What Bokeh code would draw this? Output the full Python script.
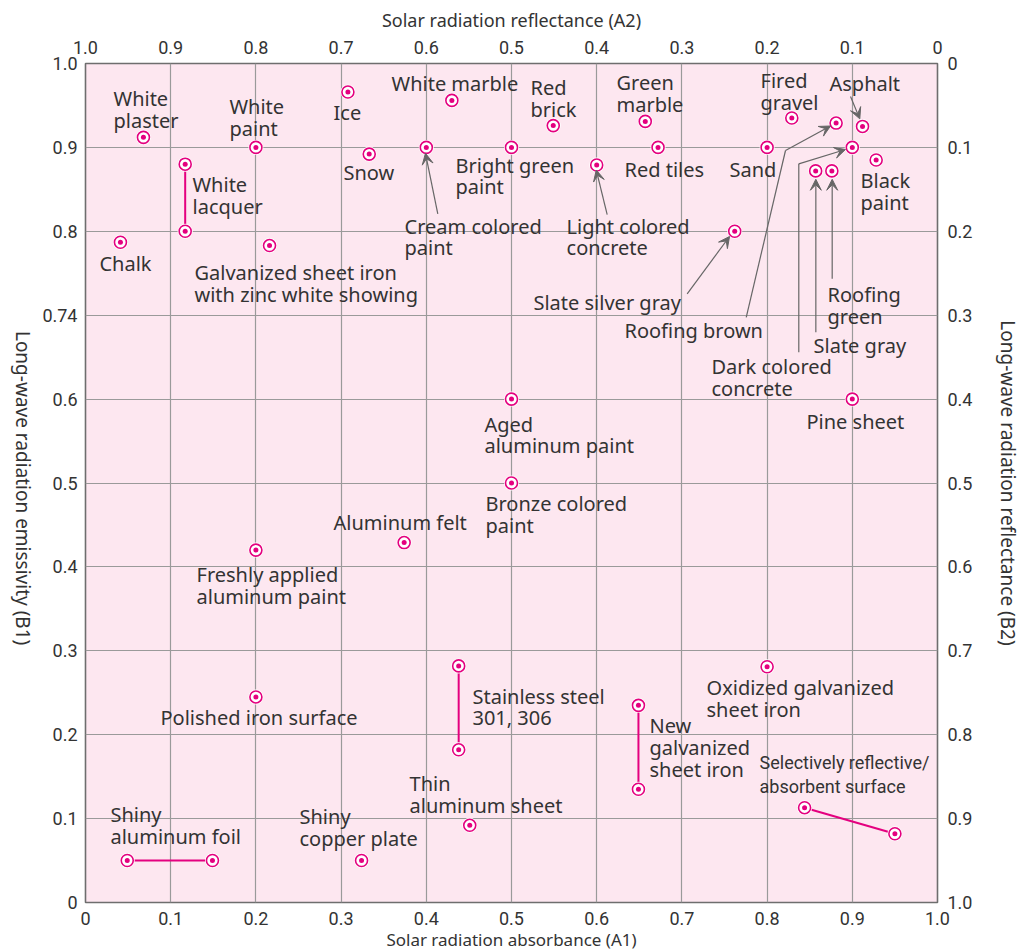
import math
from bokeh.plotting import figure
from bokeh.layouts import row
from bokeh.models import LinearAxis, Range1d, FixedTicker, Arrow, VeeHead
from bokeh.core.properties import value
from bokeh.embed import file_html
from bokeh.resources import INLINE

# ---------------- data ----------------
ticks = [0.0, 0.1, 0.2, 0.3, 0.4, 0.5, 0.6, 0.7, 0.8, 0.9, 1.0]
bottom_labels = ["0", "0.1", "0.2", "0.3", "0.4", "0.5", "0.6", "0.7", "0.8", "0.9", "1.0"]
top_labels = ["1.0", "0.9", "0.8", "0.7", "0.6", "0.5", "0.4", "0.3", "0.2", "0.1", "0"]
left_labels = ["0", "0.1", "0.2", "0.3", "0.4", "0.5", "0.6", "0.74", "0.8", "0.9", "1.0"]
right_labels = ["1.0", "0.9", "0.8", "0.7", "0.6", "0.5", "0.4", "0.3", "0.2", "0.1", "0"]

# single-value materials: solar absorbance (A1), long-wave emissivity (B1)
materials = ["White plaster", "White paint", "Ice", "White marble", "Snow",
             "Cream colored paint", "Chalk", "Galvanized sheet iron with zinc white showing",
             "Red brick", "Green marble", "Fired gravel", "Asphalt", "Bright green paint",
             "Red tiles", "Sand", "Black paint", "Light colored concrete", "Slate silver gray",
             "Roofing brown", "Roofing green", "Slate gray", "Dark colored concrete",
             "Pine sheet", "Aged aluminum paint", "Bronze colored paint", "Aluminum felt",
             "Freshly applied aluminum paint", "Polished iron surface",
             "Oxidized galvanized sheet iron", "Thin aluminum sheet", "Shiny copper plate"]
absorbance = [0.068, 0.20, 0.308, 0.43, 0.333,
              0.40, 0.041, 0.216,
              0.549, 0.657, 0.829, 0.912, 0.50,
              0.672, 0.80, 0.928, 0.60, 0.762,
              0.881, 0.876, 0.857, 0.90,
              0.90, 0.50, 0.50, 0.374,
              0.20, 0.20,
              0.80, 0.451, 0.324]
emissivity = [0.912, 0.90, 0.966, 0.956, 0.892,
              0.90, 0.787, 0.783,
              0.926, 0.931, 0.935, 0.925, 0.90,
              0.90, 0.90, 0.885, 0.879, 0.80,
              0.929, 0.872, 0.872, 0.90,
              0.60, 0.60, 0.50, 0.429,
              0.42, 0.245,
              0.281, 0.092, 0.050]

# materials given as a range (two end points)
range_materials = ["White lacquer", "Stainless steel 301, 306", "New galvanized sheet iron",
                   "Selectively reflective/absorbent surface", "Shiny aluminum foil"]
range_a_start = [0.117, 0.438, 0.649, 0.844, 0.049]
range_b_start = [0.880, 0.282, 0.235, 0.113, 0.050]
range_a_end = [0.117, 0.438, 0.649, 0.950, 0.149]
range_b_end = [0.800, 0.182, 0.135, 0.082, 0.050]

# label texts and their anchor (top-left) positions in data units
label_text = ["White\nplaster", "White\npaint", "Ice", "White marble", "Snow",
              "Cream colored\npaint", "White\nlacquer", "Chalk",
              "Galvanized sheet iron\nwith zinc white showing",
              "Red\nbrick", "Green\nmarble", "Fired\ngravel", "Asphalt",
              "Bright green\npaint", "Red tiles", "Sand", "Black\npaint",
              "Light colored\nconcrete", "Slate silver gray", "Roofing brown",
              "Roofing\ngreen", "Slate gray", "Dark colored\nconcrete", "Pine sheet",
              "Aged\naluminum paint", "Bronze colored\npaint", "Aluminum felt",
              "Freshly applied\naluminum paint", "Polished iron surface",
              "Stainless steel\n301, 306", "Oxidized galvanized\nsheet iron",
              "New\ngalvanized\nsheet iron", "Thin\naluminum sheet",
              "Shiny\ncopper plate", "Shiny\naluminum foil"]
label_x = [0.0329, 0.1690, 0.2911, 0.3592, 0.3028,
           0.3744, 0.1256, 0.0164,
           0.1279,
           0.5223, 0.6232, 0.7923, 0.8732,
           0.4343, 0.6326, 0.7559, 0.9096,
           0.5646, 0.5258, 0.6326,
           0.8709, 0.8545, 0.7347, 0.8462,
           0.4683, 0.4695, 0.2911,
           0.1303, 0.0880,
           0.4542, 0.7289,
           0.6620, 0.3803,
           0.2512, 0.0293]
label_y = [0.9702, 0.9607, 0.9535, 0.9881, 0.8820,
           0.8188, 0.8677, 0.7747,
           0.7628,
           0.9833, 0.9893, 0.9917, 0.9881,
           0.8915, 0.8856, 0.8856, 0.8725,
           0.8188, 0.7282, 0.6937,
           0.7366, 0.6758, 0.6508, 0.5852,
           0.5828, 0.4875, 0.4660,
           0.4029, 0.2324,
           0.2586, 0.2682,
           0.2229, 0.1538,
           0.1144, 0.1168]
small_label_text = ["Selectively reflective/\nabsorbent surface"]
small_label_x = [0.7911]
small_label_y = [0.1752]

# leader arrows (polyline points in data units, last point is arrow tip)
arrows = [
    [(0.4135, 0.8209), (0.3990, 0.8930)],
    [(0.6123, 0.8200), (0.5995, 0.8730)],
    [(0.7062, 0.7255), (0.7559, 0.7938)],
    [(0.7755, 0.6975), (0.8216, 0.8963), (0.8744, 0.9255)],
    [(0.8372, 0.6559), (0.8372, 0.8804), (0.8920, 0.8975)],
    [(0.8572, 0.6797), (0.8572, 0.8620)],
    [(0.8764, 0.7433), (0.8764, 0.8620)],
    [(0.8979, 0.9607), (0.9088, 0.9340)],
]

PINK = "#e4007f"
TEXT = "#333333"
GRAY = "#666666"
FONT = "Noto Sans"
TICK_FONT = "Roboto"

SIDE_W = 36
CANVAS_H = 950

p = figure(frame_width=852, frame_height=839, x_range=Range1d(0, 1), y_range=Range1d(0, 1),
           output_backend="svg", toolbar_location=None,
           min_border_left=85 - SIDE_W, min_border_right=80,
           min_border_top=63, min_border_bottom=CANVAS_H - 63 - 839)
p.background_fill_color = "#fde7f0"
p.border_fill_color = "white"
p.outline_line_color = "#6e6e6e"
p.outline_line_width = 1.6

top_axis = LinearAxis()
right_axis = LinearAxis()
p.add_layout(top_axis, "above")
p.add_layout(right_axis, "right")
bottom_axis = p.below[0]
left_axis = p.left[0]

for ax, labs in [(bottom_axis, bottom_labels), (top_axis, top_labels),
                 (left_axis, left_labels), (right_axis, right_labels)]:
    ax.ticker = FixedTicker(ticks=ticks)
    ax.major_label_overrides = {t: l for t, l in zip(ticks, labs)}
    ax.axis_line_color = None
    ax.major_tick_line_color = None
    ax.minor_tick_line_color = None
    ax.major_tick_out = 0
    ax.major_tick_in = 0
    ax.minor_tick_out = 0
    ax.minor_tick_in = 0
    ax.major_label_text_font = TICK_FONT
    ax.major_label_text_font_size = "18px"
    ax.major_label_text_color = TEXT
    ax.axis_label_text_font = FONT
    ax.axis_label_text_font_style = "normal"
    ax.axis_label_text_color = TEXT

bottom_axis.major_label_standoff = 9
bottom_axis.axis_label = "Solar radiation absorbance (A1)"
bottom_axis.axis_label_text_font_size = "17px"
bottom_axis.axis_label_standoff = 0
top_axis.major_label_standoff = 10
top_axis.axis_label = "Solar radiation reflectance (A2)"
top_axis.axis_label_text_font_size = "18px"
top_axis.axis_label_standoff = 6
left_axis.major_label_standoff = 8
right_axis.major_label_standoff = 10
right_axis.axis_label = "Long-wave radiation reflectance (B2)"
right_axis.axis_label_text_font_size = "19px"
right_axis.axis_label_standoff = 20

p.xgrid.ticker = FixedTicker(ticks=ticks)
p.ygrid.ticker = FixedTicker(ticks=ticks)
p.grid.grid_line_color = "#9a9a9a"
p.grid.grid_line_width = 1.2

# leader lines with arrows
for pts in arrows:
    xs = [q[0] for q in pts]
    ys = [q[1] for q in pts]
    if len(pts) > 2:
        p.line(xs[:-1], ys[:-1], line_color=GRAY, line_width=1.2)
    p.add_layout(Arrow(end=VeeHead(size=11, fill_color=GRAY, line_color=GRAY, line_width=1),
                       x_start=xs[-2], y_start=ys[-2], x_end=xs[-1], y_end=ys[-1],
                       line_color=GRAY, line_width=1.2))

# range connectors
p.segment(x0=range_a_start, y0=range_b_start, x1=range_a_end, y1=range_b_end,
          line_color=PINK, line_width=2)

all_a = absorbance + range_a_start + range_a_end
all_b = emissivity + range_b_start + range_b_end
p.scatter(all_a, all_b, size=15, marker="circle", fill_color="white", line_color=None)
p.scatter(all_a, all_b, size=12, marker="circle", fill_color="white",
          line_color=PINK, line_width=1.6)
p.scatter(all_a, all_b, size=5, marker="circle", fill_color=PINK, line_color=None)

# labels (small vertical shift so the cap height sits where the anchor was read)
dy = 0.0036
p.text(x=label_x, y=[v + dy for v in label_y], text=label_text, text_font=value(FONT),
       text_font_size="20px", text_color=TEXT, text_align="left", text_baseline="top",
       text_line_height=0.81)
p.text(x=small_label_x, y=[v + dy for v in small_label_y], text=small_label_text,
       text_font=value(TICK_FONT), text_font_size="18px", text_color=TEXT,
       text_align="left", text_baseline="top", text_line_height=1.1)

# narrow strip on the left carrying the top-to-bottom emissivity title
side = figure(width=SIDE_W, height=CANVAS_H, x_range=Range1d(0, SIDE_W),
              y_range=Range1d(0, CANVAS_H), output_backend="svg", toolbar_location=None,
              x_axis_location=None, y_axis_location=None, min_border=0)
side.outline_line_color = None
side.background_fill_color = "white"
side.border_fill_color = "white"
side.grid.visible = False
side.text(x=[22], y=[CANVAS_H - (63 + 902) / 2], text=["Long-wave radiation emissivity (B1)"],
          text_font=value(FONT), text_font_size="19px", text_color=TEXT,
          text_align="center", text_baseline="middle", angle=-math.pi / 2)

layout = row(side, p, spacing=0)
open("out.html", "w").write(file_html(layout, INLINE))
